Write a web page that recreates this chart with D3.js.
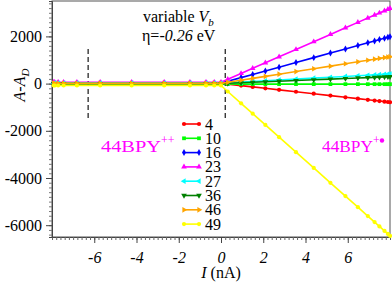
<!DOCTYPE html>
<html>
<head>
<meta charset="utf-8">
<script src="https://cdn.jsdelivr.net/npm/d3@7.9.0/dist/d3.min.js"></script>
<style>
  body { margin: 0; background: #fff; }
  text { font-family: "Liberation Serif", "DejaVu Serif", serif; }
</style>
</head>
<body>
<script>
// current values (nA), shared by every series
const currents = [-7.92, -7.87, -7.71, -7.45, -6.82, -5.72, -4.23, -2.69, -1.47, -0.71, -0.32, 0,
  0.32, 0.95, 1.5, 2.1, 2.75, 3.55, 4.39, 5.18, 5.89, 6.48, 6.95, 7.27, 7.5, 7.74, 7.9, 8.0];

const labels = ["4", "10", "16", "23", "27", "36", "46", "49"];
const colors = ["#ff0000", "#00ff00", "#0000ff", "#ff00ff", "#00ffff", "#008000", "#ffa500", "#ffff00"];

// A - A_D for each series (left flat part, then the fan to the right)
const s4  = [10, 10, 10, 10, 10, 10, 10, 10, 10, 10, 10, 10,
  -22, -85, -140, -200, -265, -345, -429, -508, -579, -638, -685, -717, -740, -764, -780, -790];
const s10 = [-20, -20, -20, -20, -20, -20, -20, -20, -20, -20, -20, -20,
  -20, -21, -21, -21, -22, -22, -22, -23, -23, -23, -24, -24, -24, -24, -24, -25];
const s16 = [20, 20, 20, 20, 20, 20, 20, 20, 20, 20, 20, 20,
  99, 254, 389, 537, 697, 893, 1100, 1294, 1469, 1614, 1730, 1808, 1865, 1924, 1963, 1988];
const s23 = [60, 60, 60, 60, 60, 60, 60, 60, 60, 60, 60, 60,
  185, 431, 647, 881, 1135, 1448, 1776, 2085, 2363, 2594, 2777, 2903, 2993, 3086, 3149, 3188];
const s27 = [20, 20, 20, 20, 20, 20, 20, 20, 20, 20, 20, 20,
  35, 66, 92, 121, 152, 190, 231, 269, 303, 331, 354, 369, 380, 392, 399, 404];
const s36 = [0, 0, 0, 0, 0, 0, 0, 0, 0, 0, 0, 0,
  12, 35, 55, 77, 100, 130, 160, 189, 215, 237, 254, 265, 274, 283, 288, 292];
const s46 = [10, 10, 10, 10, 10, 10, 10, 10, 10, 10, 10, 10,
  55, 144, 222, 306, 398, 511, 629, 740, 840, 924, 990, 1035, 1068, 1101, 1124, 1138];
const s49 = [-80, -80, -80, -80, -80, -80, -80, -80, -80, -80, -80, -80,
  -335, -836, -1274, -1752, -2269, -2906, -3574, -4203, -4768, -5238, -5612, -5867, -6050, -6241, -6368, -6448];

const seriesValues = [s4, s10, s16, s23, s27, s36, s46, s49];

const xTicks = [-6, -4, -2, 0, 2, 4, 6];
const yTicks = [-6000, -4000, -2000, 0, 2000];
const dashPositions = [-6.29, 0.2];

const W = 392, H = 289;
const pLeft = 52, pRight = 390, pTop = 1, pBottom = 237;

const x = d3.scaleLinear().domain([-8, 8]).range([pLeft, pRight]);
const y = d3.scaleLinear().domain([-6500, 3500]).range([pBottom, pTop]);

const svg = d3.select("body").append("svg")
  .attr("width", W).attr("height", H);

// frame
svg.append("rect")
  .attr("x", pLeft).attr("y", pTop)
  .attr("width", pRight - pLeft).attr("height", pBottom - pTop)
  .attr("fill", "none").attr("stroke", "#555").attr("stroke-width", 1);

// x axis: major + minor ticks
const xAxis = svg.append("g").attr("transform", `translate(0,${pBottom})`);
xAxis.call(d3.axisBottom(x).tickValues(d3.range(-8, 8.01, 0.2)).tickSize(3).tickFormat(""))
  .call(g => g.select(".domain").attr("stroke", "#444"))
  .call(g => g.selectAll(".tick line").attr("stroke", "#666"));
xAxis.append("g")
  .call(d3.axisBottom(x).tickValues(xTicks).tickSize(6).tickFormat(d => String(d)))
  .call(g => g.select(".domain").remove())
  .call(g => g.selectAll(".tick line").attr("stroke", "#444"))
  .call(g => g.selectAll(".tick text")
    .attr("font-family", "Liberation Serif").attr("font-size", 16)
    .attr("font-style", "italic").attr("fill", "#000").attr("dy", "1.05em"));

// y axis
const yAxis = svg.append("g").attr("transform", `translate(${pLeft},0)`);
yAxis.call(d3.axisLeft(y).tickValues(d3.range(-6400, 3401, 200)).tickSize(3).tickFormat(""))
  .call(g => g.select(".domain").attr("stroke", "#444"))
  .call(g => g.selectAll(".tick line").attr("stroke", "#777"));
yAxis.append("g")
  .call(d3.axisLeft(y).tickValues(yTicks).tickSize(6).tickFormat(d => String(d)))
  .call(g => g.select(".domain").remove())
  .call(g => g.selectAll(".tick line").attr("stroke", "#444"))
  .call(g => g.selectAll(".tick text")
    .attr("font-family", "Liberation Serif").attr("font-size", 16)
    .attr("fill", "#000").attr("x", -10));

// axis titles
const xt = svg.append("text").attr("x", 221).attr("y", 278)
  .attr("text-anchor", "middle").attr("font-size", 16);
xt.append("tspan").attr("font-style", "italic").text("I");
xt.append("tspan").text(" (nA)");

const yt = svg.append("text").attr("transform", "translate(25,85) rotate(-90)")
  .attr("text-anchor", "middle").attr("font-size", 16).attr("font-style", "italic");
yt.append("tspan").text("A-A");
yt.append("tspan").attr("font-size", 11).attr("dy", 4).text("D");

// dashed markers
svg.selectAll(".dash").data(dashPositions).join("line")
  .attr("class", "dash")
  .attr("x1", d => x(d)).attr("x2", d => x(d))
  .attr("y1", 49).attr("y2", 119)
  .attr("stroke", "#000").attr("stroke-width", 1.1).attr("stroke-dasharray", "5,3");

// series
const symTypes = [d3.symbolCircle, d3.symbolSquare, d3.symbolDiamond, d3.symbolTriangle,
  d3.symbolTriangle, d3.symbolTriangle, d3.symbolTriangle, d3.symbolCircle];
const symRot = [0, 0, 0, 0, -90, 180, 90, 0];

const line = d3.line().x(d => x(d[0])).y(d => y(d[1]));

seriesValues.forEach((vals, i) => {
  const pts = currents.map((c, j) => [c, vals[j]]);
  const g = svg.append("g");
  g.append("path").datum(pts)
    .attr("d", line).attr("fill", "none")
    .attr("stroke", colors[i]).attr("stroke-width", 1.6);
  g.selectAll("path.m").data(pts).join("path")
    .attr("class", "m")
    .attr("d", d3.symbol().type(symTypes[i]).size(14))
    .attr("transform", d => `translate(${x(d[0])},${y(d[1])}) rotate(${symRot[i]})`)
    .attr("fill", colors[i]);
});

// legend
const lg = svg.append("g");
labels.forEach((lab, i) => {
  const ly = 124 + i * 14.3;
  lg.append("line").attr("x1", 184).attr("x2", 199).attr("y1", ly).attr("y2", ly)
    .attr("stroke", colors[i]).attr("stroke-width", 1.6);
  [184, 199].forEach(px => {
    lg.append("path")
      .attr("d", d3.symbol().type(symTypes[i]).size(14))
      .attr("transform", `translate(${px},${ly}) rotate(${symRot[i]})`)
      .attr("fill", colors[i]);
  });
  lg.append("text").attr("x", 205).attr("y", ly + 5.5)
    .attr("font-size", 16).attr("fill", "#000").text(lab);
});

// annotations
const t1 = svg.append("text").attr("x", 143).attr("y", 22).attr("font-size", 16);
t1.append("tspan").text("variable ");
t1.append("tspan").attr("font-style", "italic").text("V");
t1.append("tspan").attr("font-style", "italic").attr("font-size", 11).attr("dy", 4).text("b");

const t2 = svg.append("text").attr("x", 142).attr("y", 41).attr("font-size", 16);
t2.append("tspan").text("η=");
t2.append("tspan").attr("font-style", "italic").text("-0.26");
t2.append("tspan").text(" eV");

const a1 = svg.append("text").attr("x", 101).attr("y", 152).attr("font-size", 16).attr("fill", "#ff00ff");
a1.append("tspan").attr("textLength", 60).attr("lengthAdjust", "spacingAndGlyphs").text("44BPY");
a1.append("tspan").attr("font-size", 12).attr("dy", -8).text("++");

const a2 = svg.append("text").attr("x", 322).attr("y", 152).attr("font-size", 16).attr("fill", "#ff00ff");
a2.append("tspan").attr("textLength", 51).attr("lengthAdjust", "spacingAndGlyphs").text("44BPY");
a2.append("tspan").attr("font-size", 12).attr("dy", -8).text("+");
svg.append("circle").attr("cx", 382).attr("cy", 140.5).attr("r", 2.2).attr("fill", "#ff00ff");
</script>
</body>
</html>
